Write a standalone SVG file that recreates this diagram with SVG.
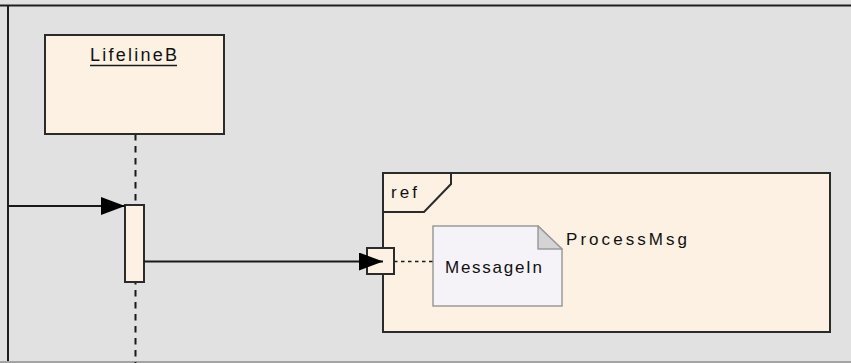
<svg xmlns="http://www.w3.org/2000/svg" width="851" height="363" viewBox="0 0 851 363">
<style>
.bg{fill:#e1e1e1}
.box{fill:#fcf1e3;stroke:#2b2b2b;stroke-width:2}
.msg{stroke:#1a1a1a;stroke-width:2;fill:none}
.life{stroke:#1a1a1a;stroke-width:2;stroke-dasharray:6.5 5.5;fill:none}
.dash{stroke:#1a1a1a;stroke-width:1.5;stroke-dasharray:3.5 3.5;fill:none}
.note{fill:#f6f3f8;stroke:#9a9a9a;stroke-width:1.5}
.fold{fill:#d4d4d4;stroke:#9a9a9a;stroke-width:1.5;stroke-linejoin:round}
text{font-family:"Liberation Sans","DejaVu Sans",sans-serif;fill:#111}
.lbl{font-size:17px}
</style>
<defs>
<marker id="arr" viewBox="0 0 24 18" refX="24" refY="9" markerWidth="24" markerHeight="18" markerUnits="userSpaceOnUse" orient="auto">
<path d="M0,0 L24,9 L0,18 Z" fill="#000"/>
</marker>
</defs>
<rect class="bg" x="0" y="0" width="851" height="363"/>
<line x1="0" y1="5.5" x2="851" y2="5.5" stroke="#1f1f1f" stroke-width="2"/>
<line x1="8" y1="5" x2="8" y2="363" stroke="#1f1f1f" stroke-width="2"/>
<line x1="0" y1="362" x2="851" y2="362" stroke="#a3a3a3" stroke-width="2"/>

<g id="ref-frame">
<rect class="box" x="383" y="173" width="447" height="159"/>
<path d="M383,212 L424,212 L451,184 L451,173" fill="none" stroke="#2b2b2b" stroke-width="2"/>
<text class="lbl" x="391" y="198" textLength="26" lengthAdjust="spacing">ref</text>
<text class="lbl" x="566" y="245" textLength="121" lengthAdjust="spacing">ProcessMsg</text>
</g>

<g id="lifelineB">
<line class="life" x1="135.5" y1="134" x2="135.5" y2="363"/>
<rect class="box" x="45" y="35" width="179" height="99"/>
<text class="lbl" x="90" y="60.5" style="font-size:18px" textLength="87" lengthAdjust="spacing">LifelineB</text>
<line x1="90" y1="65.5" x2="177" y2="65.5" stroke="#1a1a1a" stroke-width="1.5"/>
</g>

<g id="activation">
<rect class="box" x="125" y="205" width="19" height="77"/>
</g>

<g id="note-MessageIn">
<path class="note" d="M433,226 L538,226 L562,249 L562,306 L433,306 Z"/>
<path class="fold" d="M538,226 L538,249 L562,249 Z"/>
<text class="lbl" x="445" y="273" textLength="97" lengthAdjust="spacing">MessageIn</text>
</g>

<g id="connectors">
<line class="msg" x1="8" y1="206" x2="125" y2="206" marker-end="url(#arr)"/>
<line class="dash" x1="394" y1="261.5" x2="433" y2="261.5"/>
</g>

<g id="port">
<rect class="box" x="367" y="248" width="27" height="26"/>
</g>

<g id="connectors-2">
<line class="msg" x1="144" y1="261.5" x2="383" y2="261.5" marker-end="url(#arr)"/>
</g>
</svg>
